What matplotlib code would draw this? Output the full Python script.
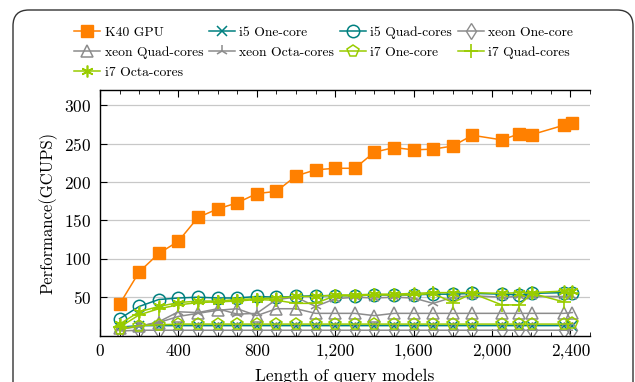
import matplotlib
matplotlib.use('Agg')
import matplotlib.pyplot as plt
import matplotlib.ticker as mticker
from matplotlib.patches import FancyBboxPatch
import numpy as np

plt.rcParams['font.family'] = ['cmr10', 'DejaVu Serif']
plt.rcParams['axes.formatter.use_mathtext'] = True

# query lengths
lengths = [100, 200, 300, 400, 500, 600, 700, 800, 900, 1000, 1100, 1200, 1300,
           1400, 1500, 1600, 1700, 1800, 1900, 2050, 2140, 2205, 2365, 2410]

# performance (GCUPS)
k40_gpu      = [41, 83, 107, 123, 154, 165, 173, 185, 188, 208, 216, 218, 218,
                239, 245, 242, 243, 247, 261, 255, 263, 262, 274, 277]
i5_one       = [11, 13, 13, 13, 13, 13, 13, 13, 13, 13, 13, 13, 13,
                13, 13, 13, 13, 13, 13, 13, 13, 13, 13, 13]
i5_quad      = [22, 38, 47, 49, 50, 49, 49, 51, 50, 51, 52, 52, 52,
                53, 53, 53, 54, 54, 55, 54, 53, 55, 56, 55]
xeon_one     = [6, 7, 7, 7, 7, 7, 7, 7, 7, 7, 7, 7, 7,
                7, 7, 7, 7, 7, 7, 7, 7, 7, 7, 7]
xeon_quad    = [10, 12, 17, 25, 29, 33, 35, 26, 35, 35, 29, 29, 29,
                26, 29, 29, 29, 29, 29, 29, 29, 29, 29, 30]
xeon_octa    = [8, 12, 18, 31, 30, 35, 28, 29, 47, 50, 38, 48, 50,
                49, 50, 49, 42, 50, 52, 50, 51, 51, 51, 52]
i7_one       = [8, 13, 14, 15, 15, 15, 15, 15, 15, 15, 15, 15, 15,
                15, 15, 15, 15, 15, 15, 15, 15, 15, 15, 16]
i7_quad      = [11, 27, 35, 40, 43, 44, 45, 47, 46, 42, 42, 52, 52,
                53, 53, 53, 55, 43, 55, 40, 40, 55, 44, 56]
i7_octa      = [15, 31, 38, 43, 45, 45, 47, 48, 49, 51, 51, 53, 53,
                54, 54, 55, 56, 56, 56, 55, 56, 56, 58, 58]

xticks = [0, 400, 800, 1200, 1600, 2000, 2400]
xticklabels = ['0', '400', '800', '1,200', '1,600', '2,000', '2,400']
yticks = [50, 100, 150, 200, 250, 300]

orange = '#ff8000'
teal = '#008080'
gray = '#8c8c8c'
lime = '#99cc00'

fig = plt.figure(figsize=(6.35, 3.82), dpi=100)

# rounded frame around everything
frame = FancyBboxPatch((13/635, -0.1), 620/635, 1.0 - 10/382 + 0.1,
                       boxstyle='round,pad=0,rounding_size=0.025',
                       transform=fig.transFigure, facecolor='none',
                       edgecolor='#333333', linewidth=1.0, mutation_aspect=635/382)
fig.patches.append(frame)

ax = fig.add_axes([100/635, (382-335.6)/382, 490/635, 245.6/382])

ms = 8.5
lw = 1.1
series = [
    ('K40 GPU', k40_gpu, orange, 's', dict(markerfacecolor=orange, markersize=ms)),
    ('i5 One-core', i5_one, teal, 'x', dict(markersize=ms*0.8, markeredgewidth=1.1)),
    ('i5 Quad-cores', i5_quad, teal, 'o', dict(markerfacecolor='none', markersize=ms*1.05, markeredgewidth=1.1)),
    ('xeon One-core', xeon_one, gray, 'd', dict(markerfacecolor='none', markersize=ms, markeredgewidth=1.0)),
    ('xeon Quad-cores', xeon_quad, gray, '^', dict(markerfacecolor='none', markersize=ms*0.95, markeredgewidth=1.1)),
    ('xeon Octa-cores', xeon_octa, gray, '2', dict(markersize=ms*1.1, markeredgewidth=1.1)),
    ('i7 One-core', i7_one, lime, 'p', dict(markerfacecolor='none', markersize=ms, markeredgewidth=1.1)),
    ('i7 Quad-cores', i7_quad, lime, '+', dict(markersize=ms*1.2, markeredgewidth=1.2)),
    ('i7 Octa-cores', i7_octa, lime, (6, 2, 0), dict(markersize=ms, markeredgewidth=1.2)),
]

handles = {}
for label, vals, col, mk, kw in series:
    h, = ax.plot(lengths, vals, color=col, marker=mk, linewidth=lw,
                 markeredgecolor=col, label=label, **kw)
    handles[label] = h

ax.set_xlim(0, 2500)
ax.set_ylim(0, 320)
ax.set_xticks(xticks)
ax.set_xticklabels(xticklabels)
ax.xaxis.set_minor_locator(mticker.MultipleLocator(100))
ax.set_yticks(yticks)
ax.grid(axis='y', color='#c8c8c8', linewidth=0.9)
ax.set_axisbelow(True)

ax.spines['right'].set_visible(False)
for s in ['left', 'top', 'bottom']:
    ax.spines[s].set_linewidth(1.0)
ax.tick_params(axis='x', which='both', direction='in', top=True, bottom=True,
               labelsize=12.5, pad=6)
ax.tick_params(axis='x', which='major', length=5, width=0.8)
ax.tick_params(axis='x', which='minor', length=3, width=0.6)
ax.tick_params(axis='y', which='major', direction='in', left=True, right=False,
               length=5, width=0.8, labelsize=12.5, pad=6)

ax.set_ylabel('Performance(GCUPS)', fontsize=12, labelpad=5)
ax.set_xlabel('Length of query models', fontsize=12.5, labelpad=6)

order = ['K40 GPU', 'xeon Quad-cores', 'i7 Octa-cores',
         'i5 One-core', 'xeon Octa-cores',
         'i5 Quad-cores', 'i7 One-core',
         'xeon One-core', 'i7 Quad-cores']
fig.legend([handles[k] for k in order], order, ncol=4, loc='upper left',
           bbox_to_anchor=(74/635, 1 - 26/382), frameon=False, fontsize=9.8,
           handlelength=1.9, handletextpad=0.35, columnspacing=0.4,
           labelspacing=0.55, borderpad=0, borderaxespad=0)

fig.savefig('out.png', dpi=100)
